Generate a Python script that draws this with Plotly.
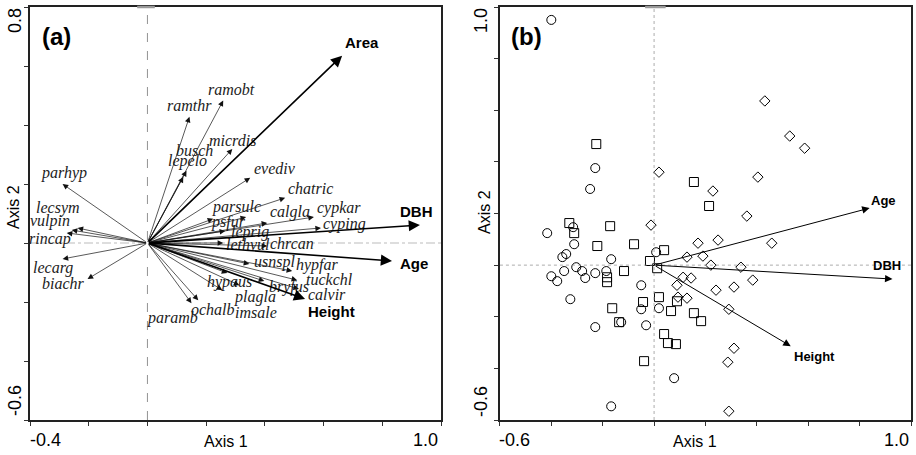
import plotly.graph_objects as go

# ---------------- data: panel (a) ----------------
species = ["parhyp", "lecsym", "vulpin", "rincap", "lecarg", "biachr", "ramthr", "ramobt",
           "micrdis", "busch", "lepelo", "evediv", "chatric", "parsulc", "psfur", "calgla",
           "cypkar", "cyping", "leprig", "lethvul", "chrcan", "usnspl", "hypfar", "tuckchl",
           "calvir", "bryfus", "hypaus", "plagla", "imsale", "ochalb", "paramb"]
species_ax1 = [-0.289, -0.238, -0.258, -0.275, -0.289, -0.204, 0.143, 0.258,
               0.289, 0.133, 0.122, 0.350, 0.469, 0.224, 0.336, 0.408,
               0.567, 0.591, 0.265, 0.258, 0.408, 0.347, 0.493, 0.510,
               0.516, 0.398, 0.272, 0.313, 0.255, 0.173, 0.150]
species_ax2 = [0.200, 0.051, 0.044, 0.034, -0.054, -0.122, 0.428, 0.483,
               0.319, 0.245, 0.224, 0.221, 0.153, 0.082, 0.088, 0.068,
               0.088, 0.051, 0.041, 0.000, -0.010, -0.071, -0.095, -0.126,
               -0.156, -0.129, -0.102, -0.143, -0.160, -0.194, -0.204]

env_a = ["Area", "DBH", "Age", "Height"]
env_a_ax1 = [0.663, 0.928, 0.833, 0.537]
env_a_ax2 = [0.635, 0.061, -0.061, -0.190]

# ---------------- data: panel (b) ----------------
circ_ax1 = [-0.400, -0.229, -0.249, -0.416, -0.315, -0.311, -0.342, -0.357, -0.167, 0.008,
            -0.400, -0.377, -0.350, -0.303, -0.280, -0.268, -0.229, -0.186, -0.050, -0.326,
            -0.050, 0.019, -0.128, -0.229, -0.031, 0.078, -0.167]
circ_ax2 = [0.950, 0.376, 0.295, 0.124, 0.147, 0.081, 0.043, 0.031, 0.023, 0.050,
            -0.043, -0.062, -0.023, -0.008, -0.023, -0.050, -0.031, -0.023, -0.078, -0.132,
            -0.171, -0.167, -0.221, -0.240, -0.233, -0.438, -0.547]
sq_ax1 = [-0.225, 0.155, 0.214, -0.171, -0.330, -0.311, -0.221, -0.078, 0.039, -0.016,
          0.012, -0.117, -0.183, -0.183, -0.043, 0.019, -0.163, 0.089, 0.066, 0.155,
          0.183, -0.136, 0.039, 0.054, 0.085, -0.039]
sq_ax2 = [0.469, 0.322, 0.229, 0.151, 0.163, 0.124, 0.074, 0.081, 0.058, 0.016,
          -0.012, -0.023, -0.047, -0.066, -0.143, -0.124, -0.167, -0.140, -0.178, -0.186,
          -0.217, -0.221, -0.267, -0.302, -0.306, -0.372]
dia_ax1 = [0.431, 0.528, 0.586, 0.404, 0.019, 0.229, 0.361, -0.012, 0.171, 0.249,
           0.458, 0.128, 0.190, 0.221, 0.338, 0.384, 0.113, 0.144, 0.089, 0.241,
           0.311, 0.093, 0.128, 0.291, 0.311, 0.287, 0.291]
dia_ax2 = [0.636, 0.500, 0.453, 0.341, 0.360, 0.287, 0.190, 0.155, 0.085, 0.097,
           0.085, 0.031, 0.035, 0.000, -0.008, -0.058, -0.047, -0.050, -0.078, -0.097,
           -0.085, -0.124, -0.128, -0.171, -0.322, -0.376, -0.566]

env_b = ["Age", "DBH", "Height"]
env_b_ax1 = [0.839, 0.928, 0.532]
env_b_ax2 = [0.221, -0.054, -0.314]

# ---------------- label offsets (pixels, +down) ----------------
species_off = [(1, -11), (-20, -20), (-22, -9), (-17, 6), (-10, 9), (-24, 5), (0, -11), (8, -11),
               (0, -8), (8, -20), (4, -16), (25, -9), (25, -9), (23, -12), (-18, 5), (23, -11),
               (25, -9), (24, -4), (25, 1), (25, 1), (25, -2), (25, -2), (25, -6), (32, -1),
               (28, 5), (25, 6), (2, 9), (16, 12), (34, 22), (15, 9), (-19, 15)]
env_a_off = [(20, -13), (-3, -14), (22, 2), (26, 12)]
env_b_off = [(14, -8), (-6, -14), (24, 10)]

W, H = 916, 455
ML, MR, MT, MB = 30, 3, 7, 35
PW, PH = W - ML - MR, H - MT - MB


def pp(x, y):
    return (x - ML) / PW, (H - MB - y) / PH


SANS = "Liberation Sans, Arial, sans-serif"
SERIF = "Liberation Serif, Times New Roman, serif"

fig = go.Figure()
fig.add_trace(go.Scatter(x=[0], y=[0], mode="markers", marker=dict(size=1, opacity=0),
                         xaxis="x", yaxis="y", showlegend=False, hoverinfo="skip"))
fig.add_trace(go.Scatter(x=circ_ax1, y=circ_ax2, mode="markers", xaxis="x2", yaxis="y2",
                         marker=dict(symbol="circle-open", size=9, color="black", line=dict(width=1)),
                         showlegend=False))
fig.add_trace(go.Scatter(x=sq_ax1, y=sq_ax2, mode="markers", xaxis="x2", yaxis="y2",
                         marker=dict(symbol="square-open", size=9, color="black", line=dict(width=1)),
                         showlegend=False))
fig.add_trace(go.Scatter(x=dia_ax1, y=dia_ax2, mode="markers", xaxis="x2", yaxis="y2",
                         marker=dict(symbol="diamond-open", size=8, color="black", line=dict(width=1)),
                         showlegend=False))

ann = []
# panel a species arrows + labels
for name, x, y, (dx, dy) in zip(species, species_ax1, species_ax2, species_off):
    ann.append(dict(x=x, y=y, ax=0, ay=0, xref="x", yref="y", axref="x", ayref="y", text="",
                    showarrow=True, arrowhead=2, arrowsize=1.6, arrowwidth=0.7, arrowcolor="#111",
                    standoff=0, startstandoff=0))
    ann.append(dict(x=x, y=y, xref="x", yref="y", text=name, showarrow=False, xshift=dx, yshift=-dy,
                    font=dict(family=SERIF, size=16, color="#222", style="italic")))
for name, x, y, (dx, dy) in zip(env_a, env_a_ax1, env_a_ax2, env_a_off):
    ann.append(dict(x=x, y=y, ax=0, ay=0, xref="x", yref="y", axref="x", ayref="y", text="",
                    showarrow=True, arrowhead=2, arrowsize=1.4, arrowwidth=1.6, arrowcolor="black",
                    standoff=0, startstandoff=0))
    ann.append(dict(x=x, y=y, xref="x", yref="y", text="<b>%s</b>" % name, showarrow=False,
                    xshift=dx, yshift=-dy, font=dict(family=SANS, size=15, color="black")))
for name, x, y, (dx, dy) in zip(env_b, env_b_ax1, env_b_ax2, env_b_off):
    ann.append(dict(x=x, y=y, ax=0, ay=0, xref="x2", yref="y2", axref="x2", ayref="y2", text="",
                    showarrow=True, arrowhead=2, arrowsize=1.5, arrowwidth=1.0, arrowcolor="black",
                    standoff=0, startstandoff=0))
    ann.append(dict(x=x, y=y, xref="x2", yref="y2", text="<b>%s</b>" % name, showarrow=False,
                    xshift=dx, yshift=-dy, font=dict(family=SANS, size=13, color="black")))

# tick labels, axis titles, panel letters
def txt(s, x, y, size, angle=0, bold=False):
    px_, py_ = pp(x, y)
    ann.append(dict(x=px_, y=py_, xref="paper", yref="paper", text=("<b>%s</b>" % s) if bold else s,
                    showarrow=False, textangle=angle, xanchor="center", yanchor="middle",
                    font=dict(family=SANS, size=size, color="black")))

txt("-0.4", 46, 440, 18)
txt("1.0", 426, 440, 18)
txt("-0.6", 516, 440, 18)
txt("1.0", 898, 440, 18)
txt("0.8", 15, 21, 18, -90)
txt("-0.6", 15, 401, 18, -90)
txt("1.0", 482, 20, 18, -90)
txt("-0.6", 482, 401, 18, -90)
txt("Axis 1", 226, 441, 16)
txt("Axis 1", 697, 441, 16)
txt("Axis 2", 14, 207, 16, -90)
txt("Axis 2", 486, 212, 16, -90)
txt("(a)", 57, 37, 24, bold=True)
txt("(b)", 528, 37, 24, bold=True)

shapes = [
    dict(type="line", xref="x", yref="y", x0=0, x1=0, y0=-0.6, y1=0.8,
         line=dict(color="#777", width=0.8, dash="dash")),
    dict(type="line", xref="x", yref="y", x0=-0.4, x1=1.0, y0=0, y1=0,
         line=dict(color="#bbb", width=1.2, dash="dashdot")),
    dict(type="line", xref="x2", yref="y2", x0=0, x1=0, y0=-0.6, y1=1.0,
         line=dict(color="#888", width=0.7, dash="dot")),
    dict(type="line", xref="x2", yref="y2", x0=-0.6, x1=1.0, y0=0, y1=0,
         line=dict(color="#888", width=0.7, dash="dot")),
    dict(type="line", xref="x", yref="paper", x0=-0.035, x1=0.025, y0=1, y1=1,
         line=dict(color="#999", width=2.5)),
    dict(type="line", xref="x2", yref="paper", x0=-0.035, x1=0.045, y0=1, y1=1,
         line=dict(color="#999", width=2.5)),
]

axis_common = dict(showgrid=False, zeroline=False, showline=True, linecolor="#222", linewidth=1.5,
                   mirror=True, ticks="outside", ticklen=4, tickwidth=1.2, tickcolor="#333",
                   showticklabels=False, fixedrange=True)

fig.update_layout(
    width=W, height=H, margin=dict(l=ML, r=MR, t=MT, b=MB),
    paper_bgcolor="white", plot_bgcolor="white", showlegend=False,
    xaxis=dict(domain=[0, 412 / PW], range=[-0.4, 1.0], tickvals=[-0.4 + 0.2 * i for i in range(8)],
               anchor="y", **axis_common),
    yaxis=dict(domain=[0, 1], range=[-0.6, 0.8], tickvals=[-0.6 + 0.2 * i for i in range(8)],
               anchor="x", **axis_common),
    xaxis2=dict(domain=[471 / PW, 1], range=[-0.6, 1.0], tickvals=[-0.6 + 0.2 * i for i in range(9)],
                anchor="y2", **axis_common),
    yaxis2=dict(domain=[0, 1], range=[-0.6, 1.0], tickvals=[-0.6 + 0.2 * i for i in range(9)],
                anchor="x2", **axis_common),
    annotations=ann, shapes=shapes,
)

fig.write_html("out.html", config=dict(displayModeBar=False),
               post_script="document.body.style.margin='0';document.body.style.overflow='hidden';")
